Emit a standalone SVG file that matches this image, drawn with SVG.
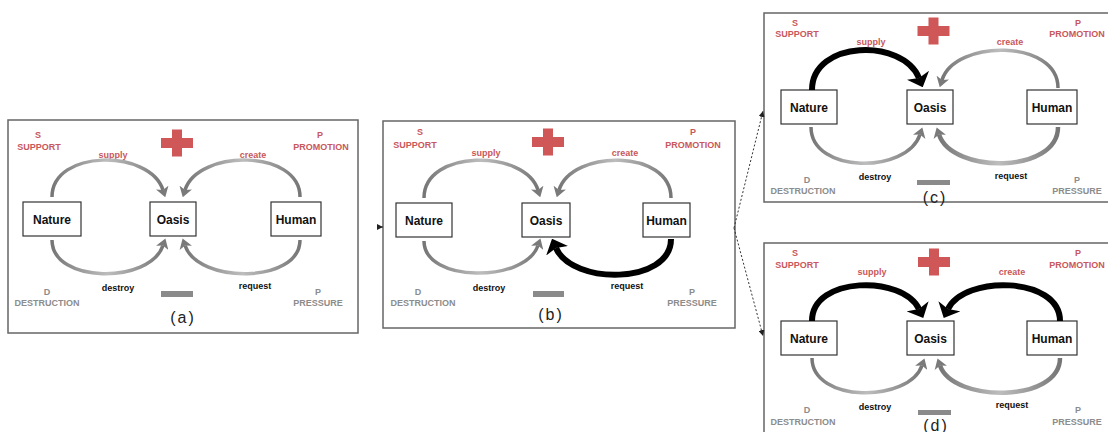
<svg xmlns="http://www.w3.org/2000/svg" width="1108" height="432" viewBox="0 0 1108 432">
<style>
.frame{fill:#fff;stroke:#666;stroke-width:1.5}
.box{fill:#fff;stroke:#333;stroke-width:1.2}
.nl{font-family:"Liberation Sans",Arial,sans-serif;font-weight:bold;font-size:12px;fill:#111;text-anchor:middle}
.red{font-family:"Liberation Sans",Arial,sans-serif;font-weight:bold;font-size:9px;fill:#c9575b;text-anchor:middle}
.gry{font-family:"Liberation Sans",Arial,sans-serif;font-weight:bold;font-size:9px;fill:#8c8c8c;text-anchor:middle}
.blk{font-family:"Liberation Sans",Arial,sans-serif;font-weight:bold;font-size:9px;fill:#111;text-anchor:middle}
.cap{font-family:"Liberation Sans",Arial,sans-serif;font-size:16px;fill:#222;text-anchor:middle;letter-spacing:2px}
.plus{fill:#cf5757}
.minus{fill:#8a8a8a}
.ga{fill:none;stroke:url(#gg);stroke-width:3.5}
.ba{fill:none;stroke:#000;stroke-width:6}
.dot{fill:none;stroke:#333;stroke-width:1;stroke-dasharray:2 2}
</style>
<defs>
<linearGradient id="gg" x1="0" y1="0" x2="1" y2="0">
<stop offset="0" stop-color="#767676"/>
<stop offset="0.5" stop-color="#bdbdbd"/>
<stop offset="1" stop-color="#767676"/>
</linearGradient>
<marker id="ag" markerUnits="userSpaceOnUse" markerWidth="10" markerHeight="13" viewBox="0 0 10 13" refX="2.5" refY="6.5" orient="auto">
<path d="M0,0 L10,6.5 L0,13 L2.5,6.5 z" fill="#7a7a7a"/>
</marker>
<marker id="ab" markerUnits="userSpaceOnUse" markerWidth="13" markerHeight="24" viewBox="0 0 13 24" refX="3" refY="12" orient="auto">
<path d="M0,0 L13,12 L0,24 L3,12 z" fill="#000"/>
</marker>
<marker id="ad" markerUnits="userSpaceOnUse" markerWidth="6" markerHeight="6" viewBox="0 0 6 6" refX="6" refY="3" orient="auto">
<path d="M0,0 L6,3 L0,6 z" fill="#222"/>
</marker>
</defs>
<rect x="0" y="0" width="1108" height="432" fill="#fff"/>

<!-- Panel frames -->
<g id="frames">
<rect class="frame" x="8" y="120" width="350" height="213"/>
<rect class="frame" x="383" y="121" width="352" height="207"/>
<rect class="frame" x="764" y="13" width="360" height="189"/>
<rect class="frame" x="764" y="243" width="360" height="210"/>
</g>

<!-- Panel (a) labels -->
<g id="panel-a-labels">
<text class="red" x="38" y="138">S</text>
<text class="red" x="39" y="150">SUPPORT</text>
<text class="red" x="320" y="138">P</text>
<text class="red" x="321" y="150">PROMOTION</text>
<rect class="plus" x="161" y="138" width="32" height="10"/>
<rect class="plus" x="172" y="129.5" width="10" height="27"/>
<text class="red" x="113" y="158">supply</text>
<text class="red" x="253" y="158">create</text>
<text class="blk" x="118" y="291">destroy</text>
<text class="blk" x="255" y="289">request</text>
<text class="gry" x="47" y="295">D</text>
<text class="gry" x="47" y="306">DESTRUCTION</text>
<text class="gry" x="318" y="295">P</text>
<text class="gry" x="318" y="306">PRESSURE</text>
<rect class="minus" x="161" y="291" width="32" height="6"/>
<text class="cap" x="183" y="323">(a)</text>
</g>
<g id="a-nature"><rect class="box" x="23" y="202" width="58" height="34"/><text class="nl" x="52" y="223.5">Nature</text></g>
<g id="a-oasis"><rect class="box" x="150" y="202" width="46" height="34"/><text class="nl" x="173" y="223.5">Oasis</text></g>
<g id="a-human"><rect class="box" x="271" y="202" width="50" height="34"/><text class="nl" x="296" y="223.5">Human</text></g>

<!-- Panel (b) labels -->
<g id="panel-b-labels">
<text class="red" x="420" y="135">S</text>
<text class="red" x="415" y="148">SUPPORT</text>
<text class="red" x="693" y="135">P</text>
<text class="red" x="693" y="148">PROMOTION</text>
<rect class="plus" x="532" y="137" width="32" height="10"/>
<rect class="plus" x="543" y="128.5" width="10" height="27"/>
<text class="red" x="486" y="156">supply</text>
<text class="red" x="625" y="156">create</text>
<text class="blk" x="489" y="291">destroy</text>
<text class="blk" x="627" y="289">request</text>
<text class="gry" x="418" y="295">D</text>
<text class="gry" x="423" y="306">DESTRUCTION</text>
<text class="gry" x="692" y="295">P</text>
<text class="gry" x="692" y="306">PRESSURE</text>
<rect class="minus" x="533" y="291" width="31" height="6"/>
<text class="cap" x="551" y="320">(b)</text>
</g>
<g id="b-nature"><rect class="box" x="396" y="203" width="56" height="34"/><text class="nl" x="424" y="224.5">Nature</text></g>
<g id="b-oasis"><rect class="box" x="522" y="203" width="48" height="34"/><text class="nl" x="546" y="224.5">Oasis</text></g>
<g id="b-human"><rect class="box" x="643" y="203" width="47" height="34"/><text class="nl" x="666.5" y="224.5">Human</text></g>

<!-- Panel (c) labels -->
<g id="panel-c-labels">
<text class="red" x="795" y="26">S</text>
<text class="red" x="797" y="37">SUPPORT</text>
<text class="red" x="1078" y="26">P</text>
<text class="red" x="1077" y="37">PROMOTION</text>
<rect class="plus" x="917.5" y="26" width="32" height="10"/>
<rect class="plus" x="928.5" y="17.5" width="10" height="27"/>
<text class="red" x="871" y="44.5">supply</text>
<text class="red" x="1010" y="44.5">create</text>
<text class="blk" x="875" y="180">destroy</text>
<text class="blk" x="1011" y="179">request</text>
<text class="gry" x="807" y="183">D</text>
<text class="gry" x="803" y="194">DESTRUCTION</text>
<text class="gry" x="1077" y="183">P</text>
<text class="gry" x="1077" y="194">PRESSURE</text>
<rect class="minus" x="917" y="180" width="33" height="5"/>
<text class="cap" x="935" y="203">(c)</text>
</g>
<g id="c-nature"><rect class="box" x="781" y="90" width="56" height="34"/><text class="nl" x="809" y="111.5">Nature</text></g>
<g id="c-oasis"><rect class="box" x="907" y="90" width="46" height="34"/><text class="nl" x="930" y="111.5">Oasis</text></g>
<g id="c-human"><rect class="box" x="1027" y="90" width="50" height="34"/><text class="nl" x="1052" y="111.5">Human</text></g>

<!-- Panel (d) labels -->
<g id="panel-d-labels">
<text class="red" x="795" y="256">S</text>
<text class="red" x="797" y="268">SUPPORT</text>
<text class="red" x="1078" y="256">P</text>
<text class="red" x="1077" y="268">PROMOTION</text>
<rect class="plus" x="918" y="257" width="32" height="10"/>
<rect class="plus" x="929" y="248.5" width="10" height="27"/>
<text class="red" x="872" y="274.5">supply</text>
<text class="red" x="1012" y="274.5">create</text>
<text class="blk" x="875" y="410">destroy</text>
<text class="blk" x="1012" y="408">request</text>
<text class="gry" x="807" y="413">D</text>
<text class="gry" x="803" y="425">DESTRUCTION</text>
<text class="gry" x="1078" y="413">P</text>
<text class="gry" x="1077" y="425">PRESSURE</text>
<rect class="minus" x="918" y="410" width="33" height="5"/>
<text class="cap" x="936" y="431">(d)</text>
</g>
<g id="d-nature"><rect class="box" x="781" y="321" width="56" height="34"/><text class="nl" x="809" y="342.5">Nature</text></g>
<g id="d-oasis"><rect class="box" x="907" y="321" width="47" height="34"/><text class="nl" x="930.5" y="342.5">Oasis</text></g>
<g id="d-human"><rect class="box" x="1027" y="321" width="50" height="34"/><text class="nl" x="1052" y="342.5">Human</text></g>

<!-- Connectors -->
<g id="connectors">
<!-- (a) -->
<path class="ga" d="M52,197 C52,149 150,149 163,190" marker-end="url(#ag)"/>
<path class="ga" d="M300,197 C300,149 198,149 185,190" marker-end="url(#ag)"/>
<path class="ga" d="M52,240 C52,284 150,284 163,245.5" marker-end="url(#ag)"/>
<path class="ga" d="M300,240 C300,284 198,284 185,245.5" marker-end="url(#ag)"/>
<!-- (b) -->
<path class="ga" d="M424,198 C424,149 525,149 538,190" marker-end="url(#ag)"/>
<path class="ga" d="M671,198 C671,149 572,149 559,190" marker-end="url(#ag)"/>
<path class="ga" d="M424,241 C424,283 525,283 538,245.5" marker-end="url(#ag)"/>
<path class="ba" d="M671,239 C671,285 572,285 556,248" marker-end="url(#ab)"/>
<!-- (c) -->
<path class="ba" d="M812,90 C812,40 903,38 919,78" marker-end="url(#ab)"/>
<path class="ga" d="M1058,88 C1058,39 955,39 942,80" marker-end="url(#ag)"/>
<path class="ga" d="M811,127 C811,174 907,174 920,134.5" marker-end="url(#ag)"/>
<path class="ga" d="M1058,127 C1058,174 952,174 939,134.5" marker-end="url(#ag)" style="stroke-width:4.5"/>
<!-- (d) -->
<path class="ba" d="M812,321 C812,276 903,275 919,309" marker-end="url(#ab)"/>
<path class="ba" d="M1060,321 C1060,276 964,275 948,309" marker-end="url(#ab)"/>
<path class="ga" d="M812,358 C812,403 909,403 922,365.5" marker-end="url(#ag)"/>
<path class="ga" d="M1060,358 C1060,403 953,403 940,365.5" marker-end="url(#ag)" style="stroke-width:4.5"/>
<!-- panel flow -->
<path class="dot" d="M377,227 L383,227" marker-end="url(#ad)"/>
<path class="dot" d="M734,228 L763,111" marker-end="url(#ad)"/>
<path class="dot" d="M734,228 L763,336" marker-end="url(#ad)"/>
</g>
</svg>
